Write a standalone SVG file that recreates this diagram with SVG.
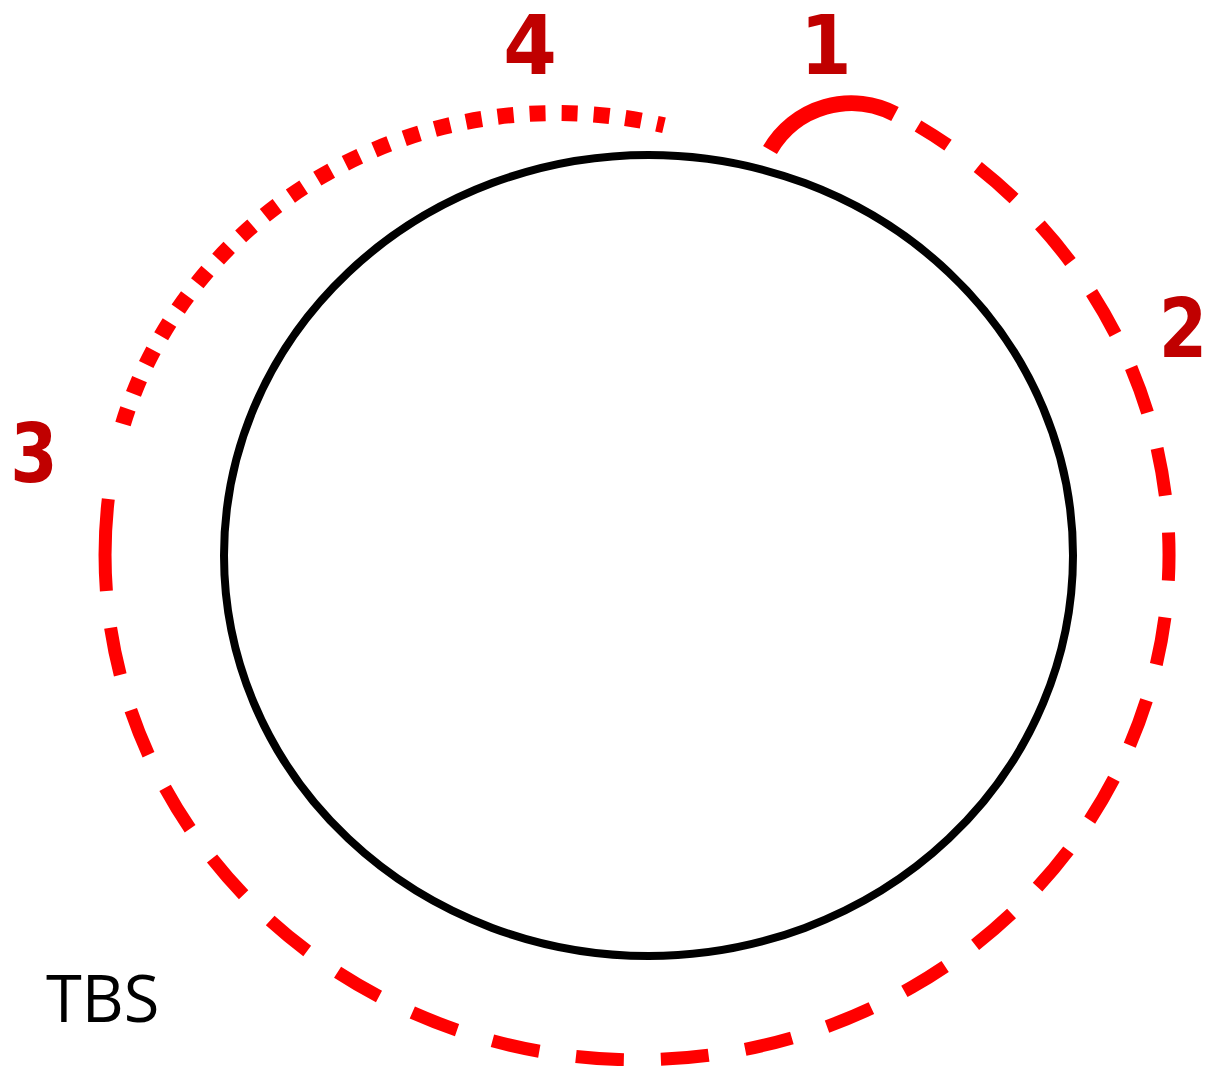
<svg xmlns="http://www.w3.org/2000/svg" width="1207" height="1066" viewBox="0 0 1207 1066">
  <style>
    .lbl { font-family: "DejaVu Sans", "Liberation Sans", sans-serif; font-weight: bold; font-size: 82px; fill: #C00000; text-anchor: middle; }
    .txt { font-family: "Open Sans", "Liberation Sans", sans-serif; font-size: 65px; fill: #000000; }
    .red { fill: none; stroke: #FF0000; stroke-linecap: butt; }
  </style>
  <rect width="1207" height="1066" fill="#FFFFFF"/>
  <g id="circle">
    <ellipse cx="648.5" cy="555.5" rx="424.5" ry="400.5" fill="none" stroke="#000000" stroke-width="8"/>
  </g>
  <g id="connectors">
    <path id="seg1" class="red" d="M770,150 A94,94 0 0 1 895,114" stroke-width="16"/>
    <path id="seg2" class="red" d="M106.4,591 A532,505 0 1 0 918,126" stroke-width="13" stroke-dasharray="48 37" stroke-dashoffset="48"/>
    <path id="seg3" class="red" d="M108.3,499 A532,505 0 0 0 106.4,591" stroke-width="13"/>
    <path id="seg4" class="red" d="M123,424 A452,432 0 0 1 664,125.3" stroke-width="16" stroke-dasharray="16 16"/>
  </g>
  <g id="labels">
    <text class="lbl" transform="translate(826,74) scale(0.9,1)">1</text>
    <text class="lbl" transform="translate(1183,357) scale(0.85,1)">2</text>
    <text class="lbl" transform="translate(34,482) scale(0.83,1)">3</text>
    <text class="lbl" transform="translate(530,74) scale(0.94,1)">4</text>
    <text class="txt" x="46" y="1022">TBS</text>
  </g>
</svg>
